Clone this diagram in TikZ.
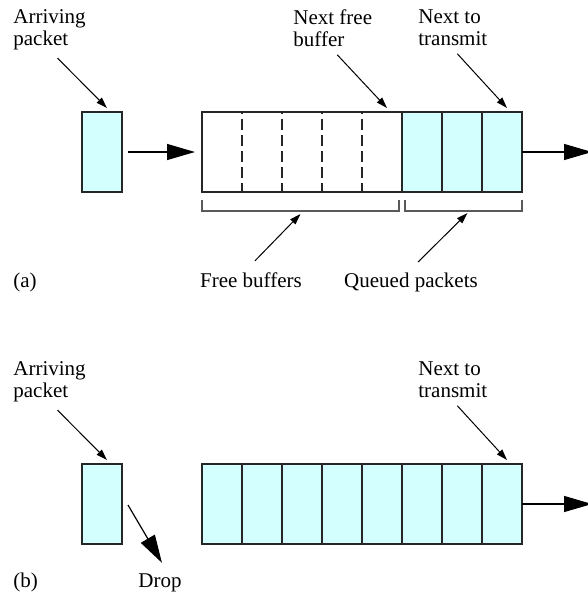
\documentclass[tikz,border=0pt]{standalone}
\usepackage{fontspec}
\setmainfont{Liberation Serif}
\usepackage{xcolor}
\usetikzlibrary{arrows.meta, calc, positioning}
\definecolor{pktblue}{RGB}{212,255,255}

\begin{document}
\begin{tikzpicture}[
  x=0.5pt, y=-0.5pt,
  every node/.style={font=\fontsize{10.5}{11}\selectfont, inner sep=0pt},
  lbl/.style={align=left, anchor=north west},
  cell/.style={rectangle, draw=black!85, line width=0.6pt, minimum width=20pt,
               minimum height=40pt, outer sep=0pt},
  pkt/.style={cell, fill=pktblue},
  freebox/.style={cell, minimum width=100pt},
  ptr/.style={-{Triangle[length=5.5pt,width=3.5pt]}, line width=0.5pt},
  flow/.style={-{Triangle[length=14pt,width=8pt]}, line width=0.6pt},
  sep/.style={draw=black!85, line width=0.6pt, dash pattern=on 5.5pt off 2.5pt, dash phase=4.5pt},
  brk/.style={draw=black!65, line width=0.6pt},
]
\useasboundingbox (0,0) rectangle (588,594);

% (a) buffer with free slots
\node[pkt] (pa) at (102,152) {};
\node[freebox] (fa) at (302,152) {};
\foreach \f in {0.2,0.4,0.6,0.8}
  \draw[sep] ($(fa.north west)!\f!(fa.north east)$) -- ($(fa.south west)!\f!(fa.south east)$);
\foreach \i/\x in {1/422,2/462,3/502}
  \node[pkt] (qa\i) at (\x,152) {};
\coordinate (outa) at (592,152);
\draw[flow] ($(pa.east)+(6,0)$) -- ($(fa.west)+(-7,0)$);
\draw[flow] (qa3.east) -- (outa);

% brackets under the buffer
\draw[brk] ($(fa.south west)+(0,8)$) -- ++(0,11) -| ($(fa.south east)+(-3,8)$);
\draw[brk] ($(qa1.south west)+(3,8)$) -- ++(0,11) -| ($(qa3.south east)+(0,8)$);
\coordinate (fbm) at ($(fa.south)+(-1.5,19)$);
\coordinate (qbm) at ($(qa2.south)+(1.5,19)$);

\node[lbl] (arra) at (13,9) {Arriving\\packet};
\node[lbl] (nfba) at (293,9) {Next free\\buffer};
\node[lbl] (ntta) at (418,9) {Next to\\transmit};
\draw[ptr] ($(arra.south)+(8,8)$) -- ($(pa.north)+(5,-4)$);
\draw[ptr] ($(nfba.south)+(4.5,8)$) -- ($(fa.north east)+(-15,-4)$);
\draw[ptr] ($(ntta.south)+(4.5,8)$) -- ($(qa3.north)+(5,-4)$);

\node[anchor=base west] (taga) at (13,287) {(a)};
\node[anchor=base] (freea) at (251,287) {Free buffers};
\node[anchor=base] (queuea) at (411,287) {Queued packets};
\draw[ptr] ($(freea.north)+(4,-11)$) -- ($(fbm)+(0,3)$);
\draw[ptr] ($(queuea.north)+(7,-10)$) -- ($(qbm)+(4,2)$);

% (b) buffer full, packet dropped
\begin{scope}[yshift=-176pt]
  \node[pkt] (pb) at (102,152) {};
  \foreach \i in {1,...,8}
    \node[pkt] (qb\i) at (182+40*\i,152) {};
  \coordinate (outb) at (592,152);
  \draw[flow] (qb8.east) -- (outb);

  \node[lbl] (arrb) at (13,9) {Arriving\\packet};
  \node[lbl] (nttb) at (418,9) {Next to\\transmit};
  \draw[ptr] ($(arrb.south)+(8,8)$) -- ($(pb.north)+(5,-4)$);
  \draw[ptr] ($(nttb.south)+(4.5,8)$) -- ($(qb8.north)+(5,-4)$);

  \node[anchor=base west] (tagb) at (13,235) {(b)};
  \node[anchor=base west] (dropb) at (138,235) {Drop};
  \draw[flow] ($(pb.east)+(6,1)$) -- ($(dropb.north)+(2,-10)$);
\end{scope}
\end{tikzpicture}
\end{document}
